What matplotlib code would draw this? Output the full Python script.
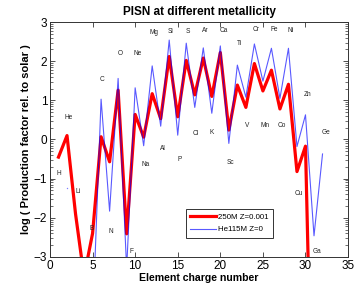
import numpy as np
import matplotlib
matplotlib.use("Agg")
import matplotlib.pyplot as plt
from matplotlib.ticker import FixedLocator

plt.rcParams['font.family'] = ['Liberation Sans', 'DejaVu Sans']

nan = np.nan
charge = list(range(1, 33))
red_250M = [-0.45, 0.1, -1.9, -3.5, -2.4, 0.07, -0.57, 1.26, -2.41, 0.64,
            0.06, 1.17, 0.53, 2.12, 0.58, 2.02, 1.14, 2.08, 1.1, 2.22,
            0.24, 1.39, 0.82, 1.94, 1.24, 1.77, 0.78, 1.41, -0.82, -0.17,
            -9.5, nan]
blue_he115 = [nan, -1.25, nan, nan, -4.7, 1.03, -1.83, 1.56, -3.3, 1.32,
              -0.16, 1.88, 0.34, 2.54, 0.11, 2.46, 0.82, 2.34, 0.67, 2.39,
              -0.1, 1.9, 1.08, 2.44, 1.49, 2.33, 1.05, 2.33, -0.18, 0.63,
              -2.46, -0.37]

elements = ['H', 'He', 'Li', 'B', 'C', 'N', 'O', 'F', 'Ne', 'Na', 'Mg', 'Al',
            'Si', 'P', 'S', 'Cl', 'Ar', 'K', 'Ca', 'Sc', 'Ti', 'V', 'Cr', 'Mn',
            'Fe', 'Co', 'Ni', 'Cu', 'Zn', 'Ga', 'Ge']
label_x = [0.98, 2.23, 3.33, 4.9, 6.07, 7.17, 8.22, 9.6, 10.3, 11.24, 12.2, 13.23,
           14.18, 15.19, 16.17, 17.15, 18.24, 19.0, 20.36, 21.14, 22.2, 23.17, 24.16, 25.25,
           26.3, 27.2, 28.27, 29.17, 30.27, 31.3, 32.4]
label_y = [-0.88, 0.57, -1.33, -2.28, 1.52, -2.35, 2.2, -2.86, 2.2, -0.65, 2.73, -0.24,
           2.75, -0.5, 2.75, 0.16, 2.78, 0.18, 2.78, -0.59, 2.44, 0.35, 2.8, 0.35,
           2.8, 0.35, 2.78, -1.37, 1.14, -2.85, 0.17]

fig = plt.figure(figsize=(3.57, 2.90), dpi=100)
ax = fig.add_axes([0.140, 0.114, 0.835, 0.810])

z = np.array(charge, dtype=float)
r = np.array(red_250M)
b = np.array(blue_he115)

ax.plot(z, r, color='#ff0000', lw=2.3, label='250M Z=0.001', zorder=2)
ax.plot(z, b, color='#0000ff', lw=0.8, alpha=0.65, label='He115M Z=0', zorder=3)
# isolated points (no neighbours) shown as tiny dots
iso = [i for i in range(len(b)) if not np.isnan(b[i])
       and (i == 0 or np.isnan(b[i-1])) and (i == len(b)-1 or np.isnan(b[i+1]))]
ax.plot(z[iso], b[iso], ls='none', marker='o', ms=1.0, color='#0000ff', alpha=0.5, mec='none')

for name, lx, ly in zip(elements, label_x, label_y):
    ax.text(lx, ly, name, fontsize=4.7, ha='center', va='center', color='#222222')

ax.set_xlim(0, 35)
ax.set_ylim(-3, 3)
ax.set_xticks(range(0, 36, 5))
ax.set_yticks(range(-3, 4))
ax.set_yticklabels(['\u22123', '\u22122', '\u22121', '0', '1', '2', '3'])
minor = [n + np.log10(k) for n in range(-3, 3) for k in range(2, 10)]
ax.yaxis.set_minor_locator(FixedLocator(minor))
ax.tick_params(which='both', direction='in', top=True, right=True, labelsize=8.5,
               pad=2, colors='#333333', labelcolor='black')
ax.tick_params(which='major', length=3.5, width=0.6)
ax.tick_params(which='minor', length=2, width=0.5)
for s in ax.spines.values():
    s.set_linewidth(0.7)
    s.set_color('#333333')

ax.set_title('PISN at different metallicity', fontsize=8.5, fontweight='bold', pad=5)
ax.set_xlabel('Element charge number', fontsize=7.6, fontweight='bold', labelpad=1)
ax.set_ylabel('log ( Production factor rel. to solar )', fontsize=8, fontweight='bold', labelpad=2)

leg = ax.legend(loc='lower left', bbox_to_anchor=(0.456, 0.082), fontsize=5.7,
                frameon=True, fancybox=False, handlelength=3.3, borderpad=0.55,
                labelspacing=0.65, handletextpad=0.25, borderaxespad=0)
leg.get_frame().set_edgecolor('black')
leg.get_frame().set_linewidth(0.7)

fig.savefig('out.png', dpi=100)
